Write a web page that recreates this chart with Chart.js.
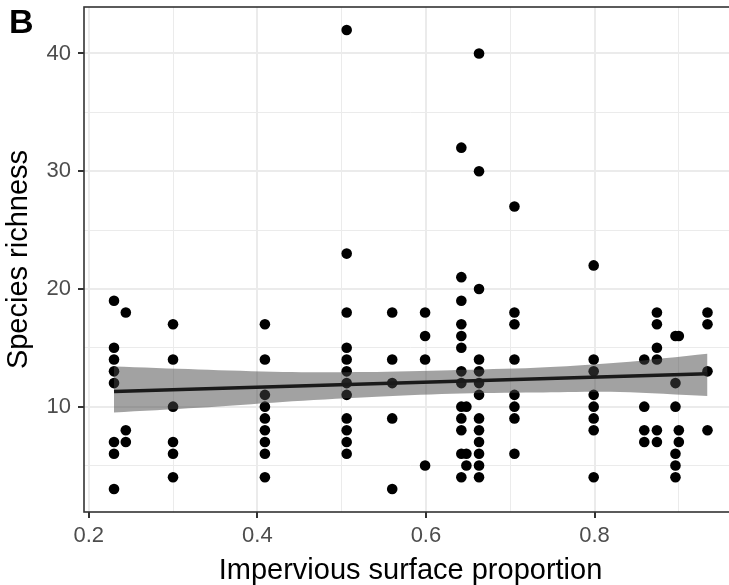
<!DOCTYPE html>
<html><head><meta charset="utf-8">
<script src="https://cdn.jsdelivr.net/npm/chart.js@4.4.1/dist/chart.umd.min.js"></script>
<style>
html,body{margin:0;padding:0;background:#fff;overflow:hidden;width:729px;height:585px;}
#wrap{position:absolute;left:0;top:0;width:745px;height:585px;}
</style></head><body>
<div id="wrap"><canvas id="c" width="745" height="585"></canvas></div>
<script>
// Observed points: impervious surface proportion (x) and species richness (y)
const impervious = [
  0.23,0.23,0.23,0.23,0.23,0.23,0.23,0.23,
  0.244,0.244,0.244,
  0.30,0.30,0.30,0.30,0.30,0.30,
  0.409,0.409,0.409,0.409,0.409,0.409,0.409,0.409,0.409,
  0.506,0.506,0.506,0.506,0.506,0.506,0.506,0.506,0.506,0.506,0.506,0.506,
  0.56,0.56,0.56,0.56,0.56,
  0.599,0.599,0.599,0.599,
  0.642,0.642,0.642,0.642,0.642,0.642,0.642,0.642,0.642,0.642,0.642,0.642,0.642,
  0.648,0.648,0.648,
  0.663,0.663,0.663,0.663,0.663,0.663,0.663,0.663,0.663,0.663,0.663,0.663,0.663,
  0.705,0.705,0.705,0.705,0.705,0.705,0.705,0.705,
  0.799,0.799,0.799,0.799,0.799,0.799,0.799,0.799,
  0.859,0.859,0.859,0.859,
  0.874,0.874,0.874,0.874,0.874,0.874,
  0.896,0.896,0.896,0.896,0.896,0.896,
  0.900,0.900,0.900,
  0.934,0.934,0.934,0.934
];
const richness = [
  19,15,14,13,12,7,6,3,
  18,8,7,
  17,14,10,7,6,4,
  17,14,11,10,9,8,7,6,4,
  42,23,18,15,14,13,12,11,9,8,7,6,
  18,14,12,9,3,
  18,16,14,5,
  32,21,19,17,16,15,13,12,10,9,8,6,4,
  10,6,5,
  40,30,20,14,13,12,11,9,8,7,6,5,4,
  27,18,17,14,11,10,9,6,
  22,14,13,11,10,9,8,4,
  14,10,8,7,
  18,17,15,14,8,7,
  16,12,10,6,5,4,
  16,8,7,
  18,17,13,8
];
// Fitted linear trend and its confidence band
const fitX = [0.23, 0.934];
const fitY = [11.28, 12.79];
const bandX = [0.23, 0.33, 0.43, 0.53, 0.63, 0.73, 0.83, 0.934];
const bandUpper = [13.4, 13.15, 12.95, 12.95, 13.1, 13.3, 13.75, 14.5];
const bandLower = [9.5, 9.9, 10.4, 10.8, 11.1, 11.2, 11.25, 10.9];
// Axis ticks
const xTicks = [0.2, 0.3, 0.4, 0.5, 0.6, 0.7, 0.8, 0.9];
const xLabelTicks = [0.2, 0.4, 0.6, 0.8];
const yTicks = [5, 10, 15, 20, 25, 30, 35, 40];
const yLabelTicks = [10, 20, 30, 40];
const xTitle = 'Impervious surface proportion';
const yTitle = 'Species richness';
const panelLabel = 'B';

const FONT = "'Liberation Sans', Arial, Helvetica, sans-serif";
const near = (v, arr) => arr.some(a => Math.abs(a - v) < 1e-6);

const pts = impervious.map((x, i) => ({x, y: richness[i]}));
const up = bandX.map((x, i) => ({x, y: bandUpper[i]}));
const lo = bandX.map((x, i) => ({x, y: bandLower[i]}));
const fit = fitX.map((x, i) => ({x, y: fitY[i]}));

const extras = {
  id: 'extras',
  afterDraw(chart) {
    const {ctx, chartArea: a} = chart;
    ctx.save();
    ctx.strokeStyle = '#333333';
    ctx.lineWidth = 1.6;
    ctx.strokeRect(a.left, a.top, a.right - a.left, a.bottom - a.top);
    ctx.fillStyle = '#000';
    ctx.font = "bold 34px " + FONT;
    ctx.textBaseline = 'alphabetic';
    ctx.textAlign = 'left';
    ctx.fillText(panelLabel, 9, 33);
    ctx.restore();
  }
};

new Chart(document.getElementById('c'), {
  type: 'scatter',
  data: {
    datasets: [
      {type: 'line', data: fit, borderColor: '#1a1a1a', borderWidth: 3.5, pointRadius: 0, fill: false},
      {type: 'line', data: up, borderWidth: 0, borderColor: 'rgba(0,0,0,0)', pointRadius: 0, tension: 0.3,
       fill: '+1', backgroundColor: 'rgba(70,70,70,0.5)'},
      {type: 'line', data: lo, borderWidth: 0, borderColor: 'rgba(0,0,0,0)', pointRadius: 0, tension: 0.3, fill: false},
      {data: pts, pointRadius: 5.3, pointBackgroundColor: '#000', pointBorderWidth: 0, borderColor: '#000'}
    ]
  },
  options: {
    responsive: false,
    animation: false,
    devicePixelRatio: 1,
    events: [],
    layout: {padding: {left: 0, right: 8, top: 7, bottom: 0}},
    plugins: {legend: {display: false}, tooltip: {enabled: false}},
    scales: {
      x: {
        type: 'linear', min: 0.1944, max: 0.969,
        afterBuildTicks: s => { s.ticks = xTicks.map(v => ({value: v})); },
        afterFit: s => { s.height = 73; s.paddingLeft = 0; s.paddingRight = 0; },
        ticks: {
          autoSkip: false, maxRotation: 0, padding: 5, color: '#4D4D4D',
          font: {family: FONT, size: 22},
          callback: v => near(v, xLabelTicks) ? v.toFixed(1) : ''
        },
        grid: {
          color: '#EBEBEB',
          lineWidth: c => (c.tick && near(c.tick.value, xLabelTicks)) ? 2 : 1,
          tickColor: c => (c.tick && near(c.tick.value, xLabelTicks)) ? '#333333' : 'rgba(0,0,0,0)',
          tickWidth: 2, tickLength: 6
        },
        border: {display: false},
        title: {display: true, text: xTitle, color: '#000', font: {family: FONT, size: 29, lineHeight: 1.0}, padding: {top: 0, bottom: 0}}
      },
      y: {
        type: 'linear', min: 1.05, max: 43.95,
        afterBuildTicks: s => { s.ticks = yTicks.map(v => ({value: v})); },
        afterFit: s => { s.width = 84; s.paddingTop = 0; s.paddingBottom = 0; },
        ticks: {
          autoSkip: false, padding: 7, color: '#4D4D4D',
          font: {family: FONT, size: 22},
          callback: v => near(v, yLabelTicks) ? String(v) : ''
        },
        grid: {
          color: '#EBEBEB',
          lineWidth: c => (c.tick && near(c.tick.value, yLabelTicks)) ? 2 : 1,
          tickColor: c => (c.tick && near(c.tick.value, yLabelTicks)) ? '#333333' : 'rgba(0,0,0,0)',
          tickWidth: 2, tickLength: 6
        },
        border: {display: false},
        title: {display: true, text: yTitle, color: '#000', font: {family: FONT, size: 29}, padding: {top: 2, bottom: 0}}
      }
    }
  },
  plugins: [extras]
});
</script>
</body></html>
